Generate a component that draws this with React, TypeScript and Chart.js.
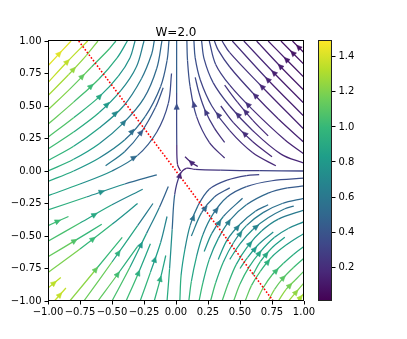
import React, { useEffect, useRef } from "react";
import { Chart, registerables } from "chart.js";
Chart.register(...registerables);

// ---------- data ----------
const TITLE = "W=2.0";
const xTicks = [-1, -0.75, -0.5, -0.25, 0, 0.25, 0.5, 0.75, 1];
const yTicks = [-1, -0.75, -0.5, -0.25, 0, 0.25, 0.5, 0.75, 1];
const cbTicks = [0.2, 0.4, 0.6, 0.8, 1.0, 1.2, 1.4];
const speedMin = 0.007;
const speedMax = 1.49;
const redLineX = [-0.76, 0.76];
const redLineY = [1, -1];

type P = [number, number, number]; // x, y, speed

const upperLeftLines: P[][] = [
  [[-1, 0.81, 1.43], [-0.82, 1.0, 1.42]],
  [[-1, 0.68, 1.36], [-0.85, 0.84, 1.35], [-0.69, 1.0, 1.33]],
  [[-1, 0.58, 1.3], [-0.84, 0.74, 1.27], [-0.7, 0.89, 1.22], [-0.61, 1.0, 1.18]],
  [[-1, 0.47, 1.24], [-0.83, 0.63, 1.18], [-0.66, 0.8, 1.08], [-0.52, 0.94, 0.97], [-0.47, 1.0, 0.93]],
  [[-1, 0.36, 1.18], [-0.8, 0.53, 1.1], [-0.6, 0.71, 0.98], [-0.46, 0.87, 0.87], [-0.38, 1.0, 0.8]],
  [[-1, 0.26, 1.12], [-0.8, 0.41, 1.03], [-0.6, 0.57, 0.9], [-0.45, 0.73, 0.8], [-0.36, 0.87, 0.73], [-0.32, 1.0, 0.7]],
  [[-1, 0.17, 1.07], [-0.8, 0.3, 0.98], [-0.6, 0.45, 0.85], [-0.43, 0.62, 0.74], [-0.31, 0.8, 0.66], [-0.25, 1.0, 0.62]],
  [[-1, 0.08, 1.02], [-0.8, 0.19, 0.93], [-0.6, 0.33, 0.8], [-0.41, 0.5, 0.68], [-0.27, 0.71, 0.6], [-0.19, 0.9, 0.56], [-0.17, 1.0, 0.55]],
  [[-1, 0.0, 0.98], [-0.8, 0.09, 0.9], [-0.6, 0.21, 0.76], [-0.41, 0.37, 0.63], [-0.25, 0.56, 0.54], [-0.15, 0.79, 0.5], [-0.11, 1.0, 0.5]],
  [[-1, -0.08, 0.95], [-0.8, 0.0, 0.86], [-0.6, 0.1, 0.72], [-0.4, 0.24, 0.58], [-0.24, 0.42, 0.48], [-0.12, 0.65, 0.44], [-0.07, 0.85, 0.45], [-0.055, 1.0, 0.46]],
  [[-1, -0.19, 0.95], [-0.75, -0.1, 0.82], [-0.5, 0.0, 0.66], [-0.3, 0.12, 0.5], [-0.15, 0.3, 0.38], [-0.06, 0.52, 0.34], [-0.035, 0.75, 0.36]],
  [[-0.55, 0.04, 0.66], [-0.4, 0.15, 0.55], [-0.27, 0.3, 0.45], [-0.16, 0.49, 0.4], [-0.1, 0.64, 0.4]],
];

const lowerLeftLines: P[][] = [
  [[-1, -0.3, 1.02], [-0.7, -0.2, 0.85], [-0.4, -0.1, 0.62], [-0.15, -0.03, 0.4]],
  [[-1, -0.42, 1.06], [-0.84, -0.35, 0.98]],
  [[-1, -0.54, 1.12], [-0.75, -0.4, 0.98], [-0.5, -0.26, 0.8], [-0.26, -0.14, 0.58]],
  [[-1, -0.66, 1.2], [-0.78, -0.53, 1.07], [-0.58, -0.41, 0.92]],
  [[-1, -0.78, 1.28], [-0.75, -0.6, 1.1], [-0.5, -0.41, 0.88], [-0.3, -0.25, 0.66]],
  [[-1, -0.9, 1.38], [-0.9, -0.82, 1.3]],
  [[-0.95, -1, 1.4], [-0.86, -0.9, 1.32]],
  [[-0.83, -1, 1.34], [-0.62, -0.75, 1.12], [-0.42, -0.51, 0.88]],
  [[-0.72, -1, 1.27], [-0.5, -0.7, 1.02], [-0.3, -0.42, 0.74], [-0.18, -0.25, 0.5]],
  [[-0.61, -1, 1.2], [-0.46, -0.8, 1.04], [-0.3, -0.58, 0.85]],
  [[-0.5, -1, 1.14], [-0.36, -0.74, 0.96], [-0.23, -0.48, 0.74], [-0.13, -0.28, 0.56], [-0.06, -0.12, 0.38]],
  [[-0.39, -1, 1.08], [-0.3, -0.8, 0.95], [-0.2, -0.56, 0.8]],
  [[-0.28, -1, 1.04], [-0.2, -0.78, 0.92], [-0.12, -0.55, 0.75], [-0.07, -0.35, 0.6]],
  [[-0.17, -1, 1.0], [-0.12, -0.82, 0.92], [-0.08, -0.65, 0.82]],
];

const lowerRightLines: P[][] = [
  [[0.95, -1, 1.32], [1.0, -0.94, 1.27]],
  [[0.88, -1, 1.3], [0.94, -0.93, 1.24], [1.0, -0.86, 1.18]],
  [[0.8, -1, 1.27], [0.86, -0.91, 1.2], [0.93, -0.84, 1.14], [1.0, -0.77, 1.08]],
  [[0.72, -1, 1.23], [0.77, -0.91, 1.17], [0.84, -0.82, 1.1], [0.92, -0.74, 1.04], [1.0, -0.67, 0.98]],
  [[0.63, -1, 1.19], [0.68, -0.9, 1.12], [0.75, -0.8, 1.05], [0.84, -0.71, 0.97], [0.92, -0.64, 0.92], [1.0, -0.58, 0.87]],
  [[0.54, -1, 1.16], [0.59, -0.88, 1.08], [0.66, -0.77, 1.0], [0.75, -0.66, 0.92], [0.86, -0.57, 0.84], [1.0, -0.48, 0.77]],
  [[0.45, -1, 1.13], [0.5, -0.87, 1.05], [0.57, -0.74, 0.96], [0.66, -0.62, 0.87], [0.77, -0.51, 0.79], [0.88, -0.44, 0.73], [1.0, -0.39, 0.68]],
  [[0.36, -1, 1.1], [0.41, -0.86, 1.01], [0.47, -0.72, 0.92], [0.56, -0.58, 0.82], [0.67, -0.46, 0.73], [0.8, -0.37, 0.65], [1.0, -0.3, 0.58]],
  [[0.27, -1, 1.07], [0.31, -0.86, 0.98], [0.37, -0.7, 0.88], [0.45, -0.55, 0.77], [0.55, -0.42, 0.67], [0.68, -0.32, 0.59], [0.83, -0.25, 0.53], [1.0, -0.21, 0.5]],
  [[0.18, -1, 1.04], [0.21, -0.86, 0.96], [0.26, -0.68, 0.85], [0.33, -0.52, 0.74], [0.42, -0.38, 0.63], [0.55, -0.26, 0.54], [0.72, -0.17, 0.47], [0.87, -0.13, 0.44], [1.0, -0.115, 0.42]],
  [[0.1, -1, 1.01], [0.12, -0.85, 0.93], [0.16, -0.66, 0.82], [0.21, -0.49, 0.7], [0.29, -0.33, 0.58], [0.4, -0.2, 0.47], [0.55, -0.12, 0.41], [0.75, -0.075, 0.37], [1.0, -0.055, 0.36]],
  [[0.03, -1, 0.99], [0.04, -0.8, 0.88], [0.07, -0.6, 0.76], [0.11, -0.42, 0.62], [0.17, -0.27, 0.5], [0.26, -0.14, 0.4], [0.4, -0.07, 0.33], [0.55, -0.035, 0.3], [0.65, -0.028, 0.3]],
  [[0.12, -0.5, 0.7], [0.2, -0.32, 0.55], [0.3, -0.2, 0.45], [0.42, -0.13, 0.38]],
  [[0.42, -0.68, 0.9], [0.5, -0.56, 0.8], [0.6, -0.45, 0.7], [0.72, -0.36, 0.62], [0.85, -0.29, 0.56], [0.92, -0.27, 0.54]],
  [[0.22, -0.62, 0.8], [0.28, -0.48, 0.7], [0.37, -0.35, 0.6], [0.52, -0.21, 0.48]],
  [[0.6, -0.8, 1.02], [0.66, -0.695, 0.94], [0.75, -0.59, 0.86], [0.85, -0.51, 0.8]],
  [[0.33, -0.68, 0.86], [0.4, -0.53, 0.74], [0.5, -0.41, 0.64], [0.62, -0.31, 0.56], [0.72, -0.26, 0.52]],
  [[0.5, -0.75, 0.95], [0.56, -0.665, 0.87], [0.65, -0.56, 0.78], [0.76, -0.47, 0.71]],
];

const upperRightLines: P[][] = [
  [[1.0, 0.91, 0.07], [0.91, 1.0, 0.08]],
  [[1.0, 0.82, 0.08], [0.82, 1.0, 0.1]],
  [[1.0, 0.72, 0.09], [0.86, 0.86, 0.11], [0.72, 1.0, 0.13]],
  [[1.0, 0.62, 0.1], [0.81, 0.81, 0.13], [0.63, 1.0, 0.16]],
  [[1.0, 0.52, 0.11], [0.76, 0.76, 0.14], [0.53, 1.0, 0.2]],
  [[1.0, 0.42, 0.12], [0.71, 0.71, 0.16], [0.44, 1.0, 0.24]],
  [[1.0, 0.32, 0.13], [0.66, 0.66, 0.18], [0.42, 0.91, 0.26], [0.36, 1.0, 0.29]],
  [[1.0, 0.22, 0.14], [0.8, 0.4, 0.16], [0.6, 0.6, 0.2], [0.42, 0.8, 0.27], [0.33, 0.93, 0.31], [0.3, 1.0, 0.33]],
  [[1.0, 0.13, 0.15], [0.85, 0.24, 0.16], [0.6, 0.47, 0.2], [0.42, 0.66, 0.26], [0.31, 0.82, 0.31], [0.26, 1.0, 0.36]],
  [[1.0, 0.06, 0.16], [0.82, 0.13, 0.17], [0.6, 0.31, 0.2], [0.42, 0.5, 0.25], [0.29, 0.68, 0.31], [0.22, 0.86, 0.36], [0.2, 1.0, 0.39]],
  [[0.78, 0.04, 0.17], [0.6, 0.14, 0.19], [0.42, 0.31, 0.23], [0.28, 0.5, 0.28], [0.19, 0.7, 0.34], [0.15, 0.87, 0.39], [0.14, 1.0, 0.42]],
  [[0.38, 0.1, 0.2], [0.26, 0.22, 0.23], [0.16, 0.42, 0.28], [0.11, 0.65, 0.35], [0.09, 0.85, 0.4], [0.085, 1.0, 0.43]],
  [[0.75, 0.11, 0.17], [0.6, 0.225, 0.19], [0.45, 0.37, 0.22], [0.35, 0.5, 0.26]],
  [[0.38, 0.22, 0.21], [0.3, 0.33, 0.24], [0.23, 0.46, 0.27], [0.18, 0.6, 0.31], [0.15, 0.72, 0.35]],
  [[0.72, 0.27, 0.17], [0.6, 0.39, 0.19], [0.48, 0.53, 0.22], [0.38, 0.66, 0.26]],
  [[0.17, 0.035, 0.15], [0.12, 0.065, 0.16], [0.07, 0.11, 0.18]],
];

const originLines: P[][] = [
  [[-0.07, -1, 0.98], [-0.05, -0.75, 0.85], [-0.03, -0.45, 0.62], [-0.01, -0.18, 0.35], [0.03, -0.03, 0.18], [0.08, 0.02, 0.15], [0.15, 0.012, 0.2], [0.35, 0.006, 0.26], [0.65, 0.002, 0.3], [1.0, 0.0, 0.33]],
  [[0.035, 0.0, 0.08], [0.012, 0.05, 0.12], [0.006, 0.2, 0.25], [0.005, 0.6, 0.42], [0.005, 1.0, 0.5]],
];

const streamlines: P[][] = [...upperLeftLines, ...lowerLeftLines, ...lowerRightLines, ...upperRightLines, ...originLines];

// ---------- colormap ----------
const VIRIDIS = ["#440154", "#482878", "#3e4989", "#31688e", "#26828e", "#1f9e89", "#35b779", "#6ece58", "#b5de2b", "#fde725"];
const hexRgb = (h: string) => [parseInt(h.slice(1, 3), 16), parseInt(h.slice(3, 5), 16), parseInt(h.slice(5, 7), 16)];
const VIR_RGB = VIRIDIS.map(hexRgb);
function viridis(t: number): string {
  t = Math.min(1, Math.max(0, t));
  const f = t * (VIR_RGB.length - 1);
  const i = Math.min(VIR_RGB.length - 2, Math.floor(f));
  const u = f - i;
  const a = VIR_RGB[i], b = VIR_RGB[i + 1];
  const c = a.map((v, k) => Math.round(v + (b[k] - v) * u));
  return `rgb(${c[0]},${c[1]},${c[2]})`;
}
const speedColor = (s: number) => viridis((s - speedMin) / (speedMax - speedMin));

const FONT = "DejaVu Sans";
const fmt2 = (v: number) => (v < 0 ? "\u2212" : "") + Math.abs(v).toFixed(2);

const framePlugin = {
  id: "frame",
  afterDraw(chart: any) {
    const { ctx, chartArea: a } = chart;
    ctx.save();
    ctx.strokeStyle = "#000";
    ctx.lineWidth = 1;
    ctx.strokeRect(Math.round(a.left) + 0.5, Math.round(a.top) - 0.5, Math.round(a.right - a.left) - 1, Math.round(a.bottom - a.top));
    ctx.fillStyle = "#000";
    ctx.font = `12px ${FONT}`;
    ctx.textAlign = "center";
    ctx.textBaseline = "alphabetic";
    ctx.fillText(TITLE, (a.left + a.right) / 2, a.top - 5.5);
    ctx.restore();
  },
};

const arrowPlugin = {
  id: "arrows",
  afterDatasetsDraw(chart: any) {
    const { ctx, chartArea: a } = chart;
    const xs = chart.scales.x, ys = chart.scales.y;
    ctx.save();
    ctx.beginPath();
    ctx.rect(a.left, a.top, a.right - a.left, a.bottom - a.top);
    ctx.clip();
    streamlines.forEach((line) => {
      const px = line.map((p) => [xs.getPixelForValue(p[0]), ys.getPixelForValue(p[1])]);
      const lens: number[] = [];
      let total = 0;
      for (let i = 0; i < px.length - 1; i++) {
        const l = Math.hypot(px[i + 1][0] - px[i][0], px[i + 1][1] - px[i][1]);
        lens.push(l);
        total += l;
      }
      let half = total / 2, i = 0;
      while (i < lens.length - 1 && half > lens[i]) { half -= lens[i]; i++; }
      const t = lens[i] > 0 ? half / lens[i] : 0;
      const mx = px[i][0] + (px[i + 1][0] - px[i][0]) * t;
      const my = px[i][1] + (px[i + 1][1] - px[i][1]) * t;
      const dx = (px[i + 1][0] - px[i][0]) / (lens[i] || 1);
      const dy = (px[i + 1][1] - px[i][1]) / (lens[i] || 1);
      const s = line[i][2] + (line[i + 1][2] - line[i][2]) * t;
      const L = 5.5, W = 2.6;
      const tipX = mx + dx * 2.5, tipY = my + dy * 2.5;
      const bx = tipX - dx * L, by = tipY - dy * L;
      ctx.beginPath();
      ctx.moveTo(tipX, tipY);
      ctx.lineTo(bx - dy * W, by + dx * W);
      ctx.lineTo(bx + dy * W, by - dx * W);
      ctx.closePath();
      ctx.fillStyle = speedColor(s);
      ctx.strokeStyle = speedColor(s);
      ctx.lineWidth = 0.6;
      ctx.fill();
      ctx.stroke();
    });
    ctx.restore();
  },
};

const colorbarPlugin = {
  id: "colorbar",
  beforeDatasetsDraw(chart: any) {
    const { ctx, chartArea: a } = chart;
    const g = ctx.createLinearGradient(0, a.bottom, 0, a.top);
    VIRIDIS.forEach((c, i) => g.addColorStop(i / (VIRIDIS.length - 1), c));
    ctx.save();
    ctx.fillStyle = g;
    ctx.fillRect(a.left, a.top, a.right - a.left, a.bottom - a.top);
    ctx.restore();
  },
  afterDraw(chart: any) {
    const { ctx, chartArea: a } = chart;
    ctx.save();
    ctx.strokeStyle = "#222";
    ctx.lineWidth = 1;
    ctx.strokeRect(Math.round(a.left) + 0.5, Math.round(a.top) - 0.5, Math.round(a.right - a.left) - 1, Math.round(a.bottom - a.top));
    ctx.restore();
  },
};

export default function App() {
  const mainRef = useRef<HTMLCanvasElement>(null);
  const cbRef = useRef<HTMLCanvasElement>(null);

  useEffect(() => {
    const lineSets = streamlines.map((line) => ({
      data: line.map((p) => ({ x: p[0], y: p[1] })),
      showLine: true,
      pointRadius: 0,
      borderWidth: 1.25,
      tension: 0.35,
      fill: false,
      order: 1,
      borderColor: speedColor(line[0][2]),
      segment: {
        borderColor: (c: any) => speedColor((line[c.p0DataIndex][2] + line[c.p1DataIndex][2]) / 2),
      },
    }));
    const red = {
      data: redLineX.map((x, i) => ({ x, y: redLineY[i] })),
      showLine: true,
      pointRadius: 0,
      borderWidth: 1.6,
      borderColor: "#ff0000",
      borderDash: [1.6, 1.8],
      tension: 0,
      fill: false,
      order: -1,
    };

    const tickFont = { family: FONT, size: 10 };
    const main = new Chart(mainRef.current as HTMLCanvasElement, {
      type: "line",
      data: { datasets: [red, ...lineSets] as any },
      options: {
        animation: false,
        responsive: false,
        devicePixelRatio: 1,
        events: [],
        layout: { padding: { left: 0, top: 41, right: 103, bottom: 0 } },
        plugins: { legend: { display: false }, tooltip: { enabled: false }, title: { display: false } },
        scales: {
          x: {
            type: "linear",
            min: -1,
            max: 1,
            afterFit: (s: any) => { s.height = 38; },
            afterBuildTicks: (s: any) => { s.ticks = xTicks.map((v) => ({ value: v })); },
            ticks: { callback: (v: any) => fmt2(Number(v)), font: tickFont, color: "#000", padding: 2, maxRotation: 0, autoSkip: false },
            grid: { drawOnChartArea: false, drawTicks: true, tickLength: 3.5, color: "#000" },
            border: { display: false },
          },
          y: {
            type: "linear",
            min: -1,
            max: 1,
            afterFit: (s: any) => { s.width = 48; },
            afterBuildTicks: (s: any) => { s.ticks = yTicks.map((v) => ({ value: v })); },
            ticks: { callback: (v: any) => fmt2(Number(v)), font: tickFont, color: "#000", padding: 3, autoSkip: false },
            grid: { drawOnChartArea: false, drawTicks: true, tickLength: 3.5, color: "#000" },
            border: { display: false },
          },
        },
      } as any,
      plugins: [arrowPlugin, framePlugin],
    });

    const cb = new Chart(cbRef.current as HTMLCanvasElement, {
      type: "line",
      data: { datasets: [] },
      options: {
        animation: false,
        responsive: false,
        devicePixelRatio: 1,
        events: [],
        layout: { padding: { left: 18, top: 41, right: 0, bottom: 38 } },
        plugins: { legend: { display: false }, tooltip: { enabled: false } },
        scales: {
          x: { type: "linear", display: false, min: 0, max: 1 },
          y: {
            type: "linear",
            position: "right",
            min: speedMin,
            max: speedMax,
            afterFit: (s: any) => { s.width = 107 - 18 - 14; },
            afterBuildTicks: (s: any) => { s.ticks = cbTicks.map((v) => ({ value: v })); },
            ticks: { callback: (v: any) => Number(v).toFixed(1), font: tickFont, color: "#000", padding: 3, autoSkip: false },
            grid: { drawOnChartArea: false, drawTicks: true, tickLength: 3.5, color: "#000" },
            border: { display: false },
          },
        },
      } as any,
      plugins: [colorbarPlugin],
    });

    return () => {
      main.destroy();
      cb.destroy();
    };
  }, []);

  return (
    <div style={{ position: "absolute", left: 0, top: 0, width: 407, height: 339, background: "#fff" }}>
      <canvas ref={mainRef} width={407} height={339} style={{ position: "absolute", left: 0, top: 0, width: 407, height: 339 }} />
      <canvas ref={cbRef} width={107} height={339} style={{ position: "absolute", left: 300, top: 0, width: 107, height: 339 }} />
    </div>
  );
}
